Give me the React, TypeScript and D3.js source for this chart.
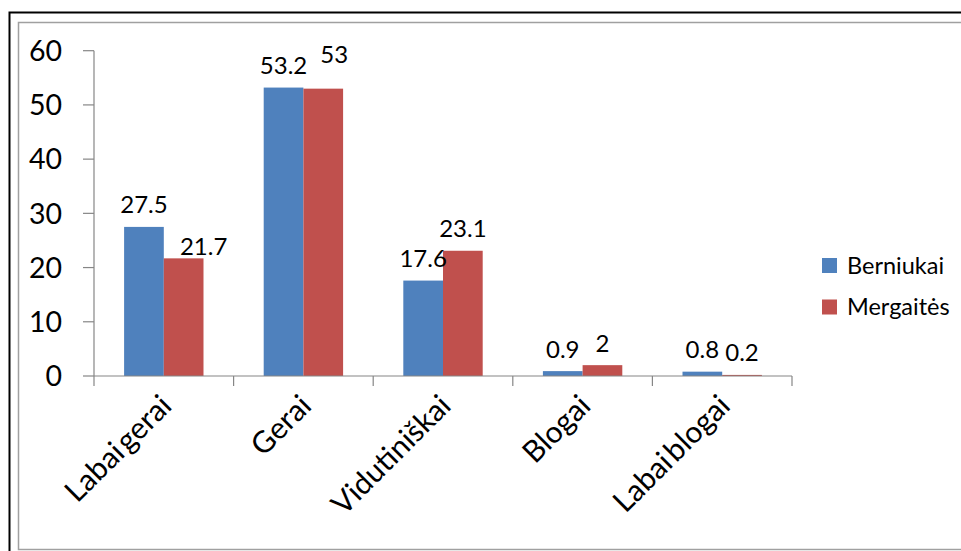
import React from "react";
import * as d3 from "d3";

const categories = ["Labai gerai", "Gerai", "Vidutiniškai", "Blogai", "Labai blogai"];
const seriesNames = ["Berniukai", "Mergaitės"];
const berniukai = [27.5, 53.2, 17.6, 0.9, 0.8];
const mergaites = [21.7, 53, 23.1, 2, 0.2];
const yTicks = [0, 10, 20, 30, 40, 50, 60];

const colors = ["#4F81BD", "#C0504D"];
// label nudges (layout only): [series-category] -> [dx, dy]
const labelNudge: Record<string, [number, number]> = {
  "1-0": [20, 10],
  "1-1": [11, -12],
};

const FONT = "Lato, 'Open Sans', sans-serif";

export default function App() {
  const W = 961;
  const H = 551;
  const x0 = 94, x1 = 792;
  const yBase = 376, yTop = 50.7;
  const y = d3.scaleLinear().domain([0, 60]).range([yBase, yTop]);
  const xb = d3.scaleBand<string>().domain(categories).range([x0, x1]).padding(0);
  const bw = xb.bandwidth();
  const gap = bw * 0.4313;
  const xs = d3.scaleBand<string>().domain(seriesNames).range([gap / 2, bw - gap / 2]).padding(0);
  const series = [berniukai, mergaites];

  return (
    <svg width={W} height={H} style={{ position: "absolute", left: 0, top: 0, background: "#fff" }}>
      <rect x={0} y={0} width={W} height={H} fill="#fff" />
      {/* outer black frame */}
      <rect x={9.5} y={12.5} width={W + 20} height={H + 20} fill="none" stroke="#000" strokeWidth={2} />
      {/* inner gray frame */}
      <rect x={18.5} y={22.5} width={W + 20} height={527} fill="none" stroke="#a0a0a0" strokeWidth={1.5} />

      {/* y axis */}
      <line x1={x0} x2={x0} y1={yTop} y2={yBase} stroke="#868686" strokeWidth={1.2} />
      {yTicks.map((t) => (
        <g key={t}>
          <line x1={x0 - 11} x2={x0} y1={y(t)} y2={y(t)} stroke="#868686" strokeWidth={1.2} />
          <text x={62} y={y(t)} dy="0.36em" textAnchor="end" fontFamily={FONT} fontSize={28.5} fill="#000">
            {t}
          </text>
        </g>
      ))}

      {/* bars */}
      {series.map((vals, si) =>
        vals.map((v, ci) => {
          const bx = (xb(categories[ci]) as number) + (xs(seriesNames[si]) as number);
          return (
            <rect
              key={`b${si}-${ci}`}
              x={bx}
              y={y(v)}
              width={xs.bandwidth()}
              height={yBase - y(v)}
              fill={colors[si]}
            />
          );
        })
      )}

      {/* x axis */}
      <line x1={x0} x2={x1} y1={yBase} y2={yBase} stroke="#868686" strokeWidth={1.2} />
      {[...categories.map((c) => xb(c) as number), x1].map((tx, i) => (
        <line key={`xt${i}`} x1={tx} x2={tx} y1={yBase} y2={yBase + 10} stroke="#868686" strokeWidth={1.2} />
      ))}

      {/* data labels */}
      {series.map((vals, si) =>
        vals.map((v, ci) => {
          const cx = (xb(categories[ci]) as number) + (xs(seriesNames[si]) as number) + xs.bandwidth() / 2;
          const n = labelNudge[`${si}-${ci}`] || [0, 0];
          return (
            <text
              key={`l${si}-${ci}`}
              x={cx + n[0]}
              y={y(v) - 13.5 + n[1]}
              textAnchor="middle"
              fontFamily={FONT}
              fontSize={24}
              fill="#000"
            >
              {String(v)}
            </text>
          );
        })
      )}

      {/* category labels */}
      {categories.map((c) => {
        const cx = (xb(c) as number) + bw / 2 - 2;
        const cy = yBase + 20;
        return (
          <text
            key={c}
            transform={`translate(${cx},${cy}) rotate(-45)`}
            textAnchor="end"
            dy="0.55em"
            fontFamily={FONT}
            fontSize={30}
            wordSpacing={-5}
            fill="#000"
          >
            {c}
          </text>
        );
      })}

      {/* legend */}
      {seriesNames.map((s, i) => (
        <g key={s} transform={`translate(822,${258 + i * 41.5})`}>
          <rect x={0} y={0} width={15} height={15} fill={colors[i]} />
          <text x={25} y={7.5} dy="0.36em" fontFamily={FONT} fontSize={23.5} fill="#000">
            {s}
          </text>
        </g>
      ))}
    </svg>
  );
}
